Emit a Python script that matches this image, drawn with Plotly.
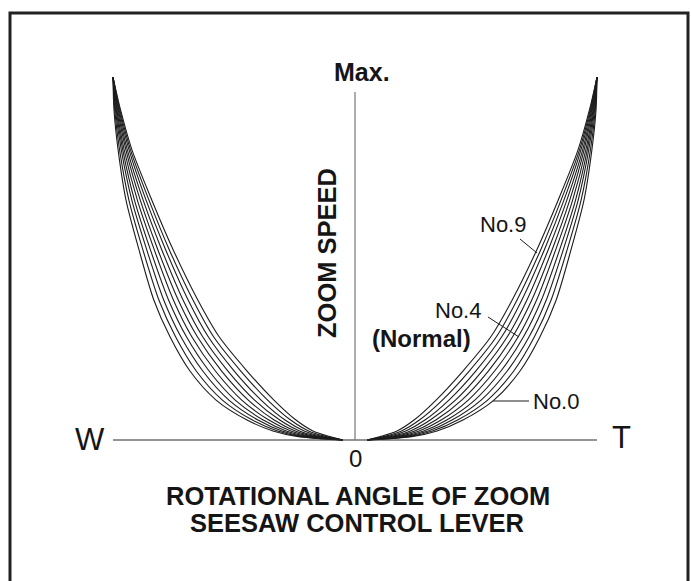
import plotly.graph_objects as go

# Zoom speed versus rotational angle of the seesaw lever, one curve per
# speed-curve setting (No.0 ... No.9).  Angle is given as a percentage of full
# lever travel, speed as a percentage of maximum zoom speed.
SPEED = [0, 1, 2.5, 5.5, 11, 19, 28.5, 38.5, 52.5, 66, 80, 91, 100]

ANGLE_NO0 = [5, 24.0, 33.9, 44.6, 57.4, 68.2, 76.5, 83.1, 89.3, 94.6, 97.9, 99.6, 100]
ANGLE_NO1 = [5, 22.5, 32.0, 42.4, 54.8, 65.6, 74.2, 81.0, 87.7, 93.4, 97.3, 99.3, 100]
ANGLE_NO2 = [5, 21.0, 30.2, 40.1, 52.1, 62.9, 72.0, 79.0, 86.1, 92.2, 96.6, 99.0, 100]
ANGLE_NO3 = [5, 19.6, 28.4, 37.9, 49.5, 60.3, 69.7, 77.0, 84.6, 91.1, 96.0, 98.7, 100]
ANGLE_NO4 = [5, 18.1, 26.5, 35.6, 46.8, 57.7, 67.5, 75.0, 83.0, 89.9, 95.4, 98.4, 100]
ANGLE_NO5 = [5, 16.6, 24.7, 33.4, 44.1, 55.1, 65.2, 73.0, 81.5, 88.7, 94.7, 98.1, 100]
ANGLE_NO6 = [5, 15.2, 22.9, 31.1, 41.5, 52.5, 63.0, 71.0, 79.9, 87.5, 94.1, 97.8, 100]
ANGLE_NO7 = [5, 13.7, 21.0, 28.9, 38.8, 49.9, 60.7, 68.9, 78.3, 86.3, 93.4, 97.5, 100]
ANGLE_NO8 = [5, 12.2, 19.2, 26.6, 36.1, 47.2, 58.5, 66.9, 76.8, 85.1, 92.8, 97.2, 100]
ANGLE_NO9 = [5, 10.7, 17.4, 24.4, 33.5, 44.6, 56.2, 64.9, 75.2, 83.9, 92.2, 96.9, 100]

CURVES = [ANGLE_NO0, ANGLE_NO1, ANGLE_NO2, ANGLE_NO3, ANGLE_NO4,
          ANGLE_NO5, ANGLE_NO6, ANGLE_NO7, ANGLE_NO8, ANGLE_NO9]

W, H = 691, 581
ORIGIN = (355, 440)          # pixel position of angle 0 / speed 0
SCALE = (2.42, 3.63)         # pixels per percent (angle, speed)

X_RANGE = [(0 - ORIGIN[0]) / SCALE[0], (W - ORIGIN[0]) / SCALE[0]]
Y_RANGE = [(ORIGIN[1] - H) / SCALE[1], ORIGIN[1] / SCALE[1]]


def dx(px):
    return (px - ORIGIN[0]) / SCALE[0]


def dy(py):
    return (ORIGIN[1] - py) / SCALE[1]


INK = "#1c1c1c"
FONT = "Liberation Sans, Arial, Helvetica, sans-serif"
fig = go.Figure()

for angles in CURVES:
    for sign in (-1, 1):
        fig.add_trace(go.Scatter(
            x=[sign * a for a in angles], y=SPEED, mode="lines",
            line=dict(color=INK, width=1.1, shape="spline", smoothing=0.8),
            hoverinfo="skip", showlegend=False))

shapes = [
    # horizontal W–T axis
    dict(type="line", x0=-100, x1=100, y0=0, y1=0,
         line=dict(color="#2a2a2a", width=1.2)),
    # vertical speed axis
    dict(type="line", x0=0, x1=0, y0=0, y1=dy(92),
         line=dict(color="#777777", width=1.2)),
    # leader lines
    dict(type="line", x0=dx(520), y0=dy(239), x1=dx(537), y1=dy(253),
         line=dict(color=INK, width=1)),
    dict(type="line", x0=dx(488), y0=dy(317), x1=dx(519), y1=dy(337),
         line=dict(color=INK, width=1)),
    dict(type="line", x0=dx(493), y0=dy(401), x1=dx(529), y1=dy(401),
         line=dict(color=INK, width=1)),
    # frame
    dict(type="rect", xref="paper", yref="paper",
         x0=10 / W, x1=688 / W, y0=-0.1, y1=1 - 13 / H,
         line=dict(color="#222222", width=3)),
]


def label(text, px, py, size, bold=False, angle=0):
    return dict(text=text, xref="paper", yref="paper", x=px / W, y=1 - py / H,
                xanchor="center", yanchor="middle", showarrow=False,
                textangle=angle,
                font=dict(family=FONT, size=size, color="#151515",
                          weight="bold" if bold else "normal"))


annotations = [
    label("Max.", 362, 72, 25, bold=True),
    label("ZOOM SPEED", 327, 253, 25.5, bold=True, angle=-90),
    label("No.9", 503, 224, 22),
    label("No.4", 458, 310, 22),
    label("(Normal)", 421, 338, 24, bold=True),
    label("No.0", 556, 401, 22),
    label("W", 90, 439, 31),
    label("T", 621, 437, 31),
    label("0", 355, 458, 24),
    label("ROTATIONAL ANGLE OF ZOOM", 358, 496, 25.5, bold=True),
    label("SEESAW CONTROL LEVER", 357, 523, 25.5, bold=True),
]

fig.update_layout(
    width=W, height=H, margin=dict(l=0, r=0, t=0, b=0),
    paper_bgcolor="white", plot_bgcolor="white", showlegend=False,
    xaxis=dict(range=X_RANGE, visible=False, fixedrange=True),
    yaxis=dict(range=Y_RANGE, visible=False, fixedrange=True),
    shapes=shapes, annotations=annotations,
)

fig.write_html("out.html")
